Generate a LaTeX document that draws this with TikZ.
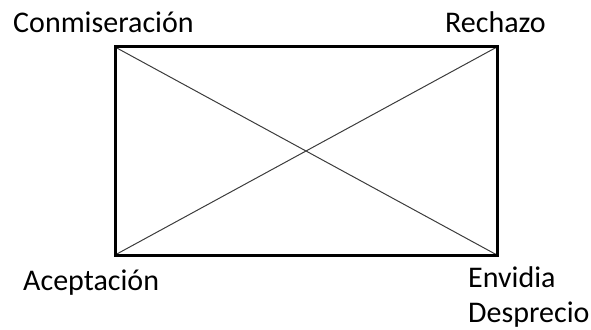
\documentclass[tikz,border=0pt]{standalone}
\usepackage{fontspec}
\setmainfont{Carlito}
\usetikzlibrary{positioning}
\definecolor{diaggray}{RGB}{60,60,60}
\tikzset{
  corner label/.style={font=\fontsize{30}{35}\selectfont,inner sep=0pt,anchor=base west,align=left},
  frame line/.style={line width=3pt,line join=miter},
  diag line/.style={line width=1pt,diaggray}
}
\begin{document}
\begin{tikzpicture}[x=1pt,y=-1pt]
\useasboundingbox (0,0) rectangle (591,329);
\coordinate (tl) at (115,47);
\coordinate (tr) at (497,47);
\coordinate (br) at (497,255);
\coordinate (bl) at (115,255);
\draw[diag line] (tl) -- (br);
\draw[diag line] (bl) -- (tr);
\draw[frame line] (tl) rectangle (br);
\node[corner label] (conmis) at (13,33) {Conmiseración};
\node[corner label] (rechazo) at (445,33) {Rechazo};
\node[corner label] (acept) at (23,290) {Aceptación};
\node[corner label] (envidia) at (468,287) {Envidia};
\node[corner label] (desprecio) at (468,322) {Desprecio};
\end{tikzpicture}
\end{document}
